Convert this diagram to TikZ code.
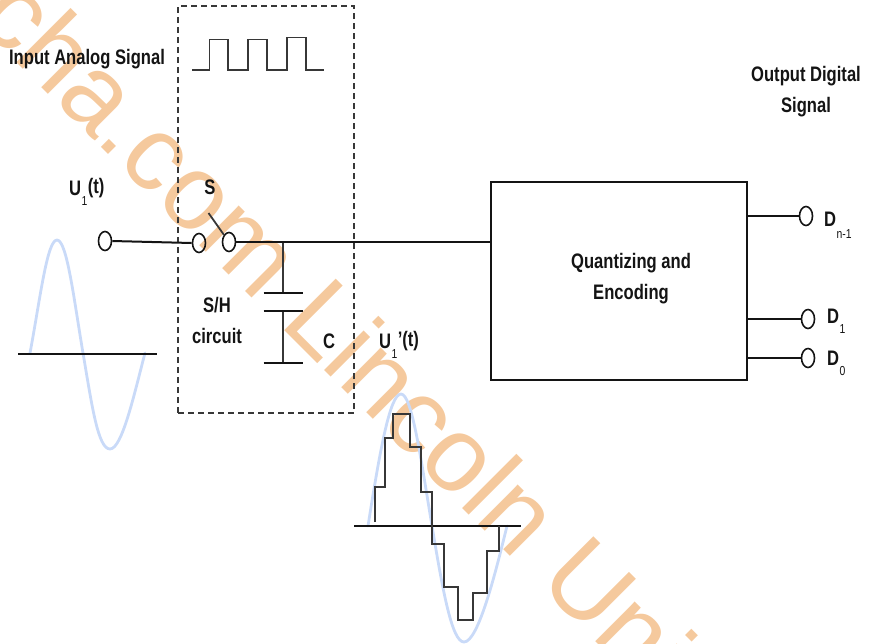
\documentclass[tikz,border=0pt]{standalone}
\usepackage{fontspec}
\setmainfont{Liberation Sans}
\newfontfamily\lab[FakeStretch=0.79]{Liberation Sans Bold}
\newfontfamily\labsub[FakeStretch=0.8]{Liberation Sans}
\usetikzlibrary{shapes.geometric}
\definecolor{wm}{HTML}{F5C99D}
\definecolor{sine}{HTML}{C9DAF8}
\definecolor{ink}{HTML}{141414}
\tikzset{
  x=1pt,y=-1pt,
  wire/.style={draw=ink,line width=2pt},
  thin wire/.style={draw=ink!85,line width=1.8pt},
  term/.style={ellipse,draw=ink,line width=1.6pt,fill=none,minimum width=13pt,minimum height=19pt,inner sep=0pt},
  sinewave/.style={draw=sine,line width=2.8pt,line cap=round},
  lbl/.style={font=\lab\fontsize{21}{31}\selectfont,text=ink,inner sep=0pt,align=center},
  sublbl/.style={font=\labsub\fontsize{13}{14}\selectfont,text=ink,inner sep=0pt},
}
\begin{document}
\begin{tikzpicture}
\useasboundingbox (0,0) rectangle (877,643);
\begin{scope}
\clip (0,0) rectangle (877,643);
\node[anchor=base west,rotate=-45,inner sep=0pt,text=wm,font=\fontsize{106}{120}\selectfont] (watermark) at (-26,20) {cha.com Lincoln Uni};
\end{scope}
% sines
\draw[sinewave] (30,353) .. controls (40,300) and (47,240) .. (57,240) .. controls (67,240) and (74,300) .. (83,353) .. controls (92,406) and (98,449) .. (110,449) .. controls (122,449) and (134,395) .. (145,353);
\draw[sinewave] (368,526) .. controls (380,450) and (390,394) .. (401,394) .. controls (412,394) and (421,460) .. (432,526) .. controls (443,592) and (452,642) .. (464,642) .. controls (478,642) and (495,575) .. (507,526);
% axes
\coordinate (axL1) at (18,354); \coordinate (axL2) at (157,354);
\coordinate (axR1) at (354,526); \coordinate (axR2) at (521,526);
\draw[wire] (axL1) -- (axL2);
\draw[wire] (axR1) -- (axR2);
% staircase
\draw[thin wire,line join=miter] (375,522) |- (385,487) |- (393,438) |- (410,414) |- (421,447) |- (432,492) |- (444,544) |- (458,587) |- (473,620) |- (487,593) |- (499,551) -- (499,526);
% dashed box
\node[draw=ink!85,dash pattern=on 6pt off 4pt,line width=1.5pt,minimum width=176pt,minimum height=407pt,inner sep=0pt] (shbox) at (266,209.5) {};
% clock
\draw[thin wire] (192,70) -- (209.5,70) -- (209.5,39.5) -- (228,39.5) -- (228,70) -- (248,70) -- (248,39.5) -- (267,39.5) -- (267,70) -- (287,70) -- (287,37.5) -- (306,37.5) -- (306,70) -- (324,70);
% terminals
\node[term] (in) at (105,241) {};
\node[term] (s1) at (199,243) {};
\node[term] (s2) at (229,242) {};
\node[draw=ink,line width=1.8pt,minimum width=256pt,minimum height=198pt,inner sep=0pt] (qe) at (619,281) {};
\node[lbl] (qet) at (631,278.5) {Quantizing and\\Encoding};
\node[term] (dn) at (806,216) {};
\node[term] (d1) at (808,319) {};
\node[term] (d0) at (808,358) {};
% connectors
\draw[wire] (in.east) -- (s1.west);
\draw[wire] (s2.east) -- (s2.east -| qe.west);
\coordinate (swtip) at (208.5,213);
\draw[thin wire] (swtip) -- (s2.north west);
\draw[wire] (qe.east |- dn) -- (dn.west);
\draw[wire] (qe.east |- d1) -- (d1.west);
\draw[wire] (qe.east |- d0) -- (d0.west);
% capacitor
\coordinate (junc) at (283,243);
\coordinate (capA) at (283,293.3);
\coordinate (capB) at (283,311);
\coordinate (capC) at (283,362.7);
\draw[thin wire] (junc) -- (capA);
\draw[thin wire] (capB) -- (capC);
\draw[wire] (263.5,293.3) -- (303,293.3);
\draw[wire] (263.5,311) -- (303,311);
\draw[wire] (263.5,362.7) -- (303,362.7);
% labels
\node[lbl] (t1) at (87,59) {Input Analog Signal};
\node[lbl] (t2) at (806,91.5) {Output Digital\\Signal};
\node[lbl] (t3) at (210,187) {S};
\node[lbl] (t4) at (217,320) {S/H\\circuit};
\node[lbl] (t5) at (329,341) {C};
\node[lbl,anchor=west] (t6) at (69,188) {U};
\node[sublbl,anchor=west] (t6s) at (t6.east) [yshift=-13pt] {1};
\node[lbl,anchor=west] (t6p) at (t6s.east |- t6) {(t)};
\node[lbl,anchor=west] (t7) at (379,341) {U};
\node[sublbl,anchor=west] (t7s) at (t7.east) [yshift=-13pt] {1};
\node[lbl,anchor=west] (t7p) at (t7s.east |- t7) {’(t)};
\node[lbl,anchor=west] (dnl) at (824,219) {D};
\node[sublbl,anchor=north west] (dns) at (dnl.south east) [yshift=-3pt] {n-1};
\node[lbl,anchor=west] (d1l) at (827,316) {D};
\node[sublbl,anchor=north west] (d1s) at (d1l.south east) [yshift=-1pt] {1};
\node[lbl,anchor=west] (d0l) at (827,358) {D};
\node[sublbl,anchor=north west] (d0s) at (d0l.south east) [yshift=-1pt] {0};
\end{tikzpicture}
\end{document}
